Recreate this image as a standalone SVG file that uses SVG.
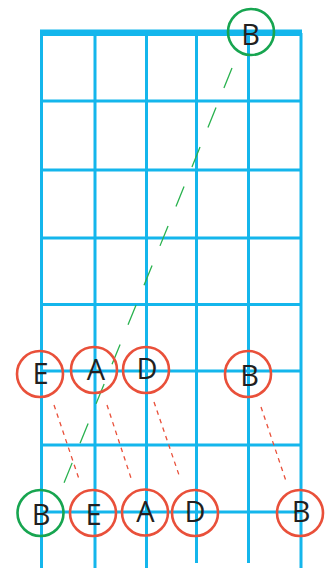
<svg xmlns="http://www.w3.org/2000/svg" width="330" height="568" viewBox="0 0 330 568">
<style>
.s{stroke:#14b6ec;stroke-width:3;fill:none}
.nut{fill:#14b6ec}
.red{fill:none;stroke:#e9503a;stroke-width:2.6}
.grn{fill:none;stroke:#17a550;stroke-width:2.6}
.t{font-family:"Open Sans","Liberation Sans",sans-serif;font-size:29px;fill:#231f20;text-anchor:middle}
.rd{stroke:#e9503a;stroke-width:1.3;stroke-dasharray:4.5 4.5;fill:none}
.gd{stroke:#2ab24f;stroke-width:1.3;stroke-dasharray:21.5 21.1;fill:none}
</style>
<g id="fretboard">
<rect class="nut" x="40" y="29.5" width="262" height="6.5"/>
<path class="s" d="M41.5 33V568M95 33V568M146.5 33V568M196.5 33V563M248.5 33V563M301 33V568"/>
<path class="s" d="M41 101H302M41 170H302M41 238H302M41 304.5H302M41 371H302M41 445H302M41 512H302"/>
</g>
<g id="connectors">
<path class="gd" d="M232 68L64 483"/>
<path class="rd" d="M54 405L79 479"/>
<path class="rd" d="M107 405L131 478"/>
<path class="rd" d="M154 402L179 475"/>
<path class="rd" d="M261 407L286 481"/>
</g>
<g id="top-B"><circle class="grn" cx="251" cy="32" r="23"/><text class="t" x="250.5" y="45">B</text></g>
<g id="mid-E"><circle class="red" cx="40" cy="374" r="23"/><text class="t" x="40.5" y="384">E</text></g>
<g id="mid-A"><circle class="red" cx="94" cy="370" r="23"/><text class="t" x="96" y="380">A</text></g>
<g id="mid-D"><circle class="red" cx="146" cy="370" r="23"/><text class="t" x="147" y="379">D</text></g>
<g id="mid-B"><circle class="red" cx="248" cy="374" r="23"/><text class="t" x="249.5" y="386">B</text></g>
<g id="bot-B1"><circle class="grn" cx="40.5" cy="513" r="23"/><text class="t" x="41" y="525">B</text></g>
<g id="bot-E"><circle class="red" cx="93" cy="513" r="23"/><text class="t" x="93.5" y="525">E</text></g>
<g id="bot-A"><circle class="red" cx="145" cy="512.5" r="23"/><text class="t" x="145.5" y="522">A</text></g>
<g id="bot-D"><circle class="red" cx="195" cy="513" r="23"/><text class="t" x="195" y="522">D</text></g>
<g id="bot-B2"><circle class="red" cx="300" cy="513" r="23"/><text class="t" x="301" y="522">B</text></g>
</svg>
